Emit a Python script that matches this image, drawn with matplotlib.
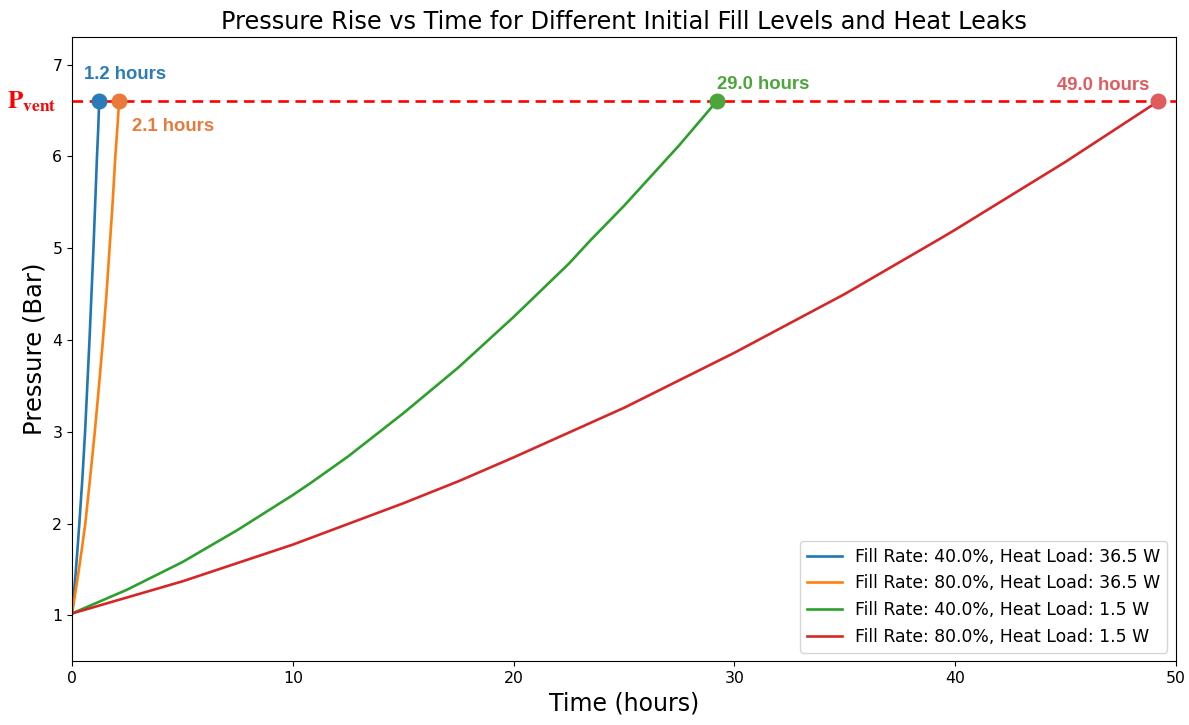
import matplotlib.pyplot as plt

plt.rcParams['font.family'] = 'DejaVu Sans'

# vent pressure (bar)
p_vent = 6.6

# curves: time (hours) and pressure (bar)
t_blue = [0, 0.07, 0.16, 0.24, 0.33, 0.47, 0.59, 0.69, 0.79, 0.88, 0.97, 1.05, 1.13, 1.185, 1.23]
p_blue = [1.02, 1.2, 1.45, 1.7, 2.0, 2.5, 3.0, 3.5, 4.0, 4.5, 5.0, 5.5, 6.0, 6.3, 6.6]

t_orange = [0, 0.12, 0.28, 0.43, 0.60, 0.82, 1.03, 1.22, 1.40, 1.56, 1.70, 1.84, 1.96, 2.05, 2.13]
p_orange = [1.02, 1.2, 1.45, 1.7, 2.0, 2.5, 3.0, 3.5, 4.0, 4.5, 5.0, 5.5, 6.0, 6.3, 6.6]

t_green = [0, 2.5, 5, 7.5, 10, 10.86, 12.5, 15, 17.5, 20, 22.5, 23.5, 25, 27.5, 29.2]
p_green = [1.02, 1.28, 1.58, 1.93, 2.31, 2.45, 2.73, 3.20, 3.70, 4.25, 4.83, 5.09, 5.46, 6.12, 6.6]

t_red = [0, 5, 10, 15, 17.5, 20, 25, 30, 35, 39.3, 40, 45, 49.2]
p_red = [1.02, 1.37, 1.77, 2.22, 2.46, 2.72, 3.26, 3.86, 4.50, 5.10, 5.20, 5.94, 6.6]

labels = ["Fill Rate: 40.0%, Heat Load: 36.5 W",
          "Fill Rate: 80.0%, Heat Load: 36.5 W",
          "Fill Rate: 40.0%, Heat Load: 1.5 W",
          "Fill Rate: 80.0%, Heat Load: 1.5 W"]
vent_hours = [1.2, 2.1, 29.0, 49.0]

line_colors = ['#1f77b4', '#ff7f0e', '#2ca02c', '#d62728']
note_colors = ['#2b7bba', '#ea7a3a', '#4ca53a', '#e05a5e']

fig, ax = plt.subplots(figsize=(11.89, 7.25), dpi=100)
fig.subplots_adjust(left=0.0606, right=0.989, top=0.949, bottom=0.088)

series = [(t_blue, p_blue), (t_orange, p_orange), (t_green, p_green), (t_red, p_red)]
for (t, p), lab, c in zip(series, labels, line_colors):
    ax.plot(t, p, color=c, lw=1.9, label=lab)

for (t, p), c in zip(series, note_colors):
    ax.plot(t[-1], p[-1], 'o', color=c, ms=10.5, zorder=5)

ax.axhline(p_vent, color='red', ls='--', lw=1.9, dashes=(4, 2.5))

# "x hours" notes next to the vent points
font_note = dict(fontfamily='Liberation Sans', fontweight='bold', fontsize=13.3)
ax.text(2.4, 6.89, f"{vent_hours[0]} hours", color=note_colors[0], ha='center', va='center', **font_note)
ax.text(2.7, 6.32, f"{vent_hours[1]} hours", color=note_colors[1], ha='left', va='center', **font_note)
ax.text(29.2, 6.78, f"{vent_hours[2]} hours", color=note_colors[2], ha='left', va='center', **font_note)
ax.text(48.8, 6.77, f"{vent_hours[3]} hours", color=note_colors[3], ha='right', va='center', **font_note)

ax.text(-0.0136, p_vent, r'$\mathbf{P_{vent}}$', transform=ax.get_yaxis_transform(),
        ha='right', va='center', color='red', fontsize=18, math_fontfamily='stix')

ax.set_xlim(0, 50)
ax.set_ylim(0.5, 7.3)
ax.set_yticks([1, 2, 3, 4, 5, 6, 7])
ax.tick_params(labelsize=11.3)
ax.set_xlabel("Time (hours)", fontsize=17)
ax.set_ylabel("Pressure (Bar)", fontsize=17.5)
ax.set_title("Pressure Rise vs Time for Different Initial Fill Levels and Heat Leaks", fontsize=17.3)
ax.legend(loc='lower right', fontsize=12.4)

fig.savefig('out.png', dpi=100)
